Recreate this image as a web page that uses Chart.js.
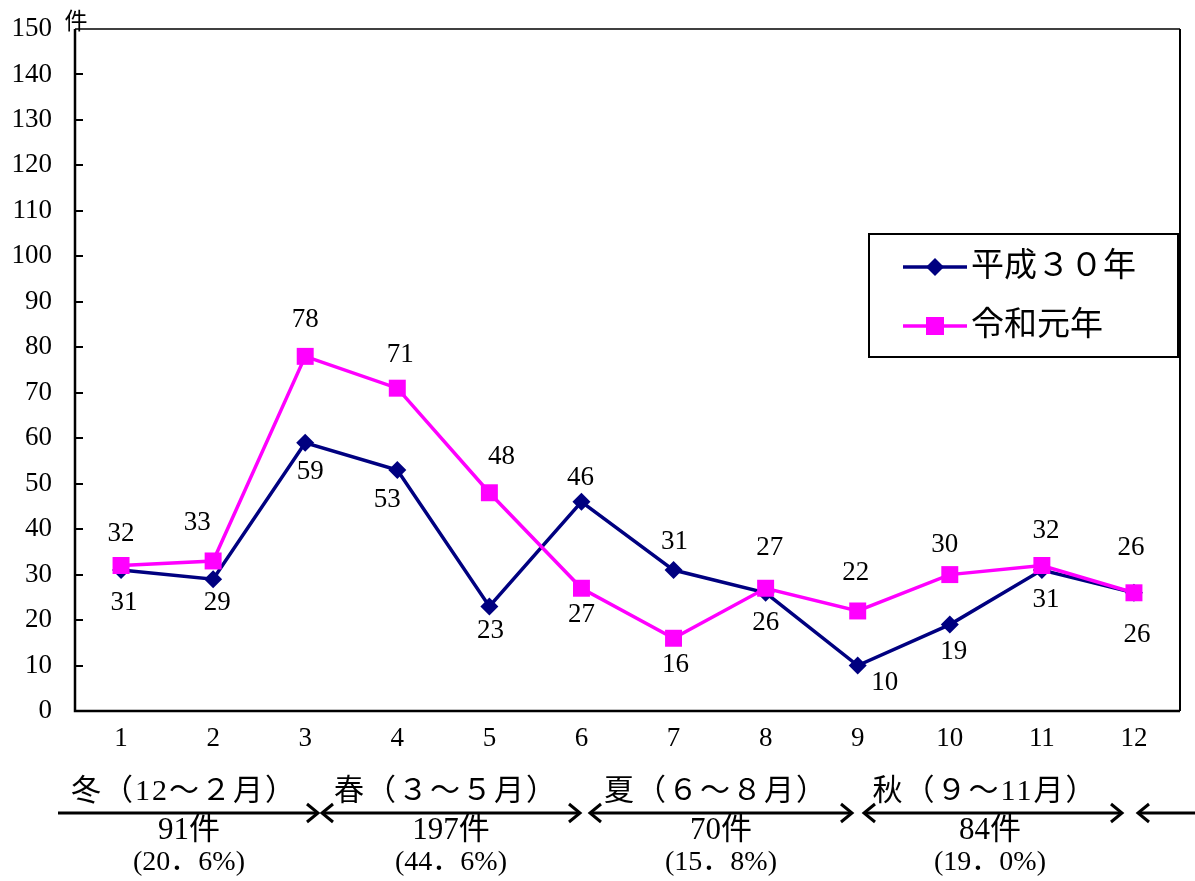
<!DOCTYPE html>
<html>
<head>
<meta charset="utf-8">
<script src="https://cdn.jsdelivr.net/npm/chart.js@4.4.0/dist/chart.umd.min.js"></script>
<style>
  body { margin: 0; background: #fff; }
  canvas { display: block; }
</style>
</head>
<body>
<canvas id="chart" width="1195" height="881"></canvas>
<script>
// data
const months = ['1', '2', '3', '4', '5', '6', '7', '8', '9', '10', '11', '12'];
const heisei30 = [31, 29, 59, 53, 23, 46, 31, 26, 10, 19, 31, 26];
const reiwa1 = [32, 33, 78, 71, 48, 27, 16, 27, 22, 30, 32, 26];
const seriesNames = ['平成３０年', '令和元年'];
const seasonNames = ['冬（12～２月）', '春（３～５月）', '夏（６～８月）', '秋（９～11月）'];
const seasonCounts = ['91件', '197件', '70件', '84件'];
const seasonShares = ['(20．6%)', '(44．6%)', '(15．8%)', '(19．0%)'];

// label nudges (px) relative to each point
const heiseiLabelOffsets = [[3, 33], [4, 24], [5, 29], [-10, 30], [1, 24], [-1, -24], [1, -28], [0, 30], [27, 17], [4, 27], [4, 30], [3, 42]];
const reiwaLabelOffsets = [[0, -32], [-16, -38], [0, -36], [3, -33], [12, -36], [0, 27], [2, 27], [4, -40], [-2, -38], [-5, -30], [4, -35], [-3, -45]];

const NAVY = '#000080';
const PINK = '#FF00FF';
const numFont = '"Liberation Serif", "Noto Sans CJK JP", serif';
const jpFont = '"Liberation Serif", "Noto Sans CJK JP", sans-serif';

// season arrows along the bottom: [from, to, headLeft, headRight, textCenter]
const seasonArrows = [
    [58, 318, false, true, 184],
    [322, 580, true, true, 446],
    [590, 852, true, true, 716],
    [864, 1122, true, true, 985],
    [1138, 1200, true, false, null]
];

function drawHead(ctx, x, y, dir) {
    ctx.beginPath();
    ctx.moveTo(x - dir * 11, y - 9);
    ctx.lineTo(x, y);
    ctx.lineTo(x - dir * 11, y + 9);
    ctx.stroke();
}

const decor = {
    id: 'decor',
    beforeDraw(chart) {
        const ctx = chart.ctx;
        ctx.save();
        ctx.fillStyle = '#fff';
        ctx.fillRect(0, 0, chart.width, chart.height);
        ctx.restore();
    },
    afterDatasetsDraw(chart) {
        const ctx = chart.ctx;
        ctx.save();
        ctx.font = '27px ' + numFont;
        ctx.fillStyle = '#000';
        ctx.textAlign = 'center';
        ctx.textBaseline = 'middle';
        const sets = [[0, heisei30, heiseiLabelOffsets], [1, reiwa1, reiwaLabelOffsets]];
        sets.forEach(([di, values, offs]) => {
            const meta = chart.getDatasetMeta(di);
            meta.data.forEach((pt, i) => {
                ctx.fillText(String(values[i]), pt.x + offs[i][0], pt.y + offs[i][1]);
            });
        });
        ctx.restore();
    },
    afterDraw(chart) {
        const ctx = chart.ctx;
        const a = chart.chartArea;
        const y = chart.scales.y;
        ctx.save();
        ctx.strokeStyle = '#000';

        // frame
        ctx.lineWidth = 1.5;
        ctx.beginPath();
        ctx.moveTo(a.left, a.top);
        ctx.lineTo(a.right, a.top);
        ctx.stroke();
        ctx.lineWidth = 2;
        ctx.beginPath();
        ctx.moveTo(a.right, a.top);
        ctx.lineTo(a.right, a.bottom);
        ctx.stroke();
        ctx.lineWidth = 2.5;
        ctx.beginPath();
        ctx.moveTo(a.left, a.top);
        ctx.lineTo(a.left, a.bottom);
        ctx.lineTo(a.right, a.bottom);
        ctx.stroke();

        // inward tick marks on the y axis
        ctx.lineWidth = 2;
        for (let v = 10; v < 150; v += 10) {
            const py = Math.round(y.getPixelForValue(v));
            ctx.beginPath();
            ctx.moveTo(a.left, py);
            ctx.lineTo(a.left + 8, py);
            ctx.stroke();
        }

        // unit
        ctx.fillStyle = '#000';
        ctx.font = '23px ' + jpFont;
        ctx.textAlign = 'center';
        ctx.textBaseline = 'middle';
        ctx.fillText('件', 76, 23);

        // legend
        const lx = 869, ly = 234, lw = 309, lh = 123;
        ctx.fillStyle = '#fff';
        ctx.fillRect(lx, ly, lw, lh);
        ctx.lineWidth = 2;
        ctx.strokeRect(lx, ly, lw, lh);
        const rows = [[NAVY, 'diamond', 267], [PINK, 'square', 326]];
        rows.forEach(([col, shape, ry], i) => {
            ctx.strokeStyle = col;
            ctx.fillStyle = col;
            ctx.lineWidth = 3.5;
            ctx.beginPath();
            ctx.moveTo(903, ry);
            ctx.lineTo(967, ry);
            ctx.stroke();
            if (shape === 'diamond') {
                ctx.beginPath();
                ctx.moveTo(935, ry - 9);
                ctx.lineTo(944, ry);
                ctx.lineTo(935, ry + 9);
                ctx.lineTo(926, ry);
                ctx.closePath();
                ctx.fill();
            } else {
                ctx.fillRect(926, ry - 9, 18, 18);
            }
            ctx.fillStyle = '#000';
            ctx.font = '33px ' + jpFont;
            ctx.textAlign = 'left';
            ctx.textBaseline = 'middle';
            ctx.fillText(seriesNames[i], 971, ry);
        });

        // season arrows and labels
        ctx.strokeStyle = '#000';
        ctx.fillStyle = '#000';
        ctx.lineWidth = 3;
        const ay = 813;
        seasonArrows.forEach(([x0, x1, hl, hr, tc], i) => {
            ctx.beginPath();
            ctx.moveTo(x0, ay);
            ctx.lineTo(x1, ay);
            ctx.stroke();
            if (hl) drawHead(ctx, x0, ay, -1);
            if (hr) drawHead(ctx, x1, ay, 1);
            if (tc !== null) {
                ctx.textAlign = 'center';
                ctx.textBaseline = 'middle';
                ctx.font = '30px ' + jpFont;
                ctx.letterSpacing = '2px';
                ctx.fillText(seasonNames[i], tc, 792);
                ctx.letterSpacing = '0px';
                ctx.font = '31px ' + jpFont;
                ctx.fillText(seasonCounts[i], tc + 5, 831);
                ctx.font = '28px ' + jpFont;
                ctx.fillText(seasonShares[i], tc + 5, 863);
            }
        });
        ctx.restore();
    }
};

new Chart(document.getElementById('chart').getContext('2d'), {
    type: 'line',
    data: {
        labels: months,
        datasets: [{
            label: seriesNames[0],
            data: heisei30,
            borderColor: NAVY,
            backgroundColor: NAVY,
            borderWidth: 3.5,
            pointStyle: 'rectRot',
            pointRadius: 9,
            pointBorderWidth: 0,
            tension: 0,
            order: 1
        }, {
            label: seriesNames[1],
            data: reiwa1,
            borderColor: PINK,
            backgroundColor: PINK,
            borderWidth: 3.5,
            pointStyle: 'rect',
            pointRadius: 12,
            pointBorderWidth: 0,
            tension: 0,
            order: 0
        }]
    },
    options: {
        responsive: false,
        animation: false,
        events: [],
        layout: { padding: { left: 0, top: 29, right: 15, bottom: 0 } },
        plugins: {
            legend: { display: false },
            tooltip: { enabled: false }
        },
        scales: {
            x: {
                offset: true,
                grid: { display: false, drawTicks: false },
                border: { display: false },
                ticks: { color: '#000', font: { size: 27, family: numFont }, padding: 12, maxRotation: 0 },
                afterFit(scale) { scale.height = 170; scale.paddingLeft = 0; scale.paddingRight = 0; }
            },
            y: {
                min: 0,
                max: 150,
                grid: { display: false, drawTicks: false },
                border: { display: false },
                ticks: { stepSize: 10, color: '#000', font: { size: 27, family: numFont }, padding: 23 },
                afterFit(scale) { scale.width = 75; scale.paddingTop = 0; scale.paddingBottom = 0; }
            }
        }
    },
    plugins: [decor]
});
</script>
</body>
</html>
